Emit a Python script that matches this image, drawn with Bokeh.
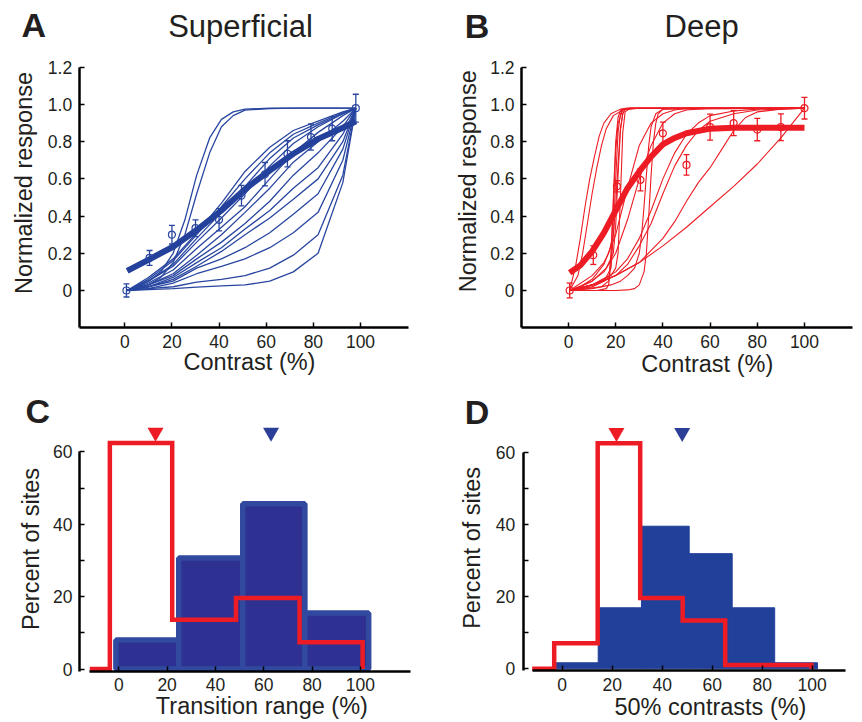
import math
from bokeh.plotting import figure
from bokeh.layouts import column, row
from bokeh.models import (Range1d, FixedTicker, PrintfTickFormatter,
                          Whisker, TeeHead, ColumnDataSource)
from bokeh.core.properties import value
from bokeh.embed import file_html
from bokeh.resources import INLINE

FONT = "Liberation Sans"
TXT = "#231F20"
BLUE = "#2846A0"
BLUE_THICK = "#23409A"
RED = "#ED1C24"

# ---------------- Panel A (superficial) ----------------
A_grid = [1, 10, 20.5, 30.5, 41, 51, 61.5, 71.5, 82, 92.5, 98]
A_curves = [
    [0, .07, .17, .31, .47, .64, .77, .86, .91, .96, .98],
    [0, .06, .16, .30, .45, .60, .74, .84, .90, .955, .98],
    [0, .05, .14, .28, .42, .56, .71, .82, .89, .95, .98],
    [0, .05, .13, .26, .39, .52, .67, .79, .88, .95, .98],
    [0, .04, .11, .226, .34, .45, .60, .74, .85, .94, .98],
    [0, .03, .09, .19, .30, .42, .55, .69, .80, .91, .98],
    [0, .03, .08, .17, .26, .36, .48, .62, .74, .88, .98],
    [0, .02, .07, .15, .23, .33, .43, .55, .66, .84, .98],
    [0, .02, .06, .13, .21, .30, .39, .49, .60, .80, .98],
    [0, .02, .05, .12, .17, .23, .31, .41, .52, .76, .98],
    [0, .01, .04, .09, .13, .17, .23, .31, .42, .70, .98],
    [0, .01, .02, .045, .06, .08, .12, .19, .30, .62, .98],
    [0, .005, .01, .018, .025, .03, .05, .10, .20, .58, .98],
]
A_steep_x = [1, 5, 10, 15.3, 20.5, 25.5, 30.5, 36, 41, 46, 51, 61.5, 71.5, 82, 92.5, 98]
A_steep = [
    [0, .02, .05, .10, .20, .38, .62, .82, .92, .96, .975, .98, .98, .98, .98, .98],
    [0, .015, .03, .07, .15, .30, .52, .74, .88, .94, .97, .978, .98, .98, .98, .98],
]
A_mean = [.105, .165, .235, .325, .43, .545, .645, .735, .815, .875, .91]
A_pts_x = [0.7, 10.5, 20, 30, 40, 49.5, 59.5, 69, 79, 88, 98]
A_pts_y = [0, .175, .30, .335, .38, .51, .625, .735, .825, .87, .98]
A_pts_err = [.035, .04, .05, .045, .06, .055, .063, .07, .07, .065, .075]

# ---------------- Panel B (deep) ----------------
B_curves = [
    ([0.5, 3, 5, 7, 9, 11, 13, 15, 18, 22, 30, 100],
     [0, .13, .28, .45, .6, .72, .83, .9, .95, .975, .98, .98]),
    ([0.5, 4, 6, 8, 10, 12, 14, 16, 19, 23, 30, 100],
     [0, .08, .2, .36, .52, .66, .78, .87, .94, .97, .98, .98]),
    ([0.5, 10, 15, 18, 19, 20, 21, 22, 23, 25, 100],
     [0, .02, .05, .12, .3, .6, .85, .95, .975, .98, .98]),
    ([0.5, 10, 16, 19, 20, 21, 22, 23, 24, 26, 100],
     [0, .05, .12, .2, .35, .62, .86, .95, .975, .98, .98]),
    ([0.5, 8, 14, 17, 18, 19, 20, 21, 22, 24, 100],
     [0, .01, .02, .05, .2, .5, .8, .93, .97, .98, .98]),
    ([0.5, 10, 15, 17, 19, 20, 21, 22, 23, 24, 26, 100],
     [0, .08, .15, .2, .3, .45, .68, .87, .95, .975, .98, .98]),
    ([0.5, 12, 16, 17, 18, 19, 20, 21, 23, 25, 100],
     [0, 0, .01, .03, .15, .45, .75, .9, .97, .98, .98]),
    ([0.5, 10, 18, 20, 21, 22, 23, 24, 26, 100],
     [0, .03, .08, .12, .2, .5, .85, .96, .98, .98]),
    ([0.5, 5, 10, 15, 20, 25, 30, 35, 40, 45, 50, 60, 100],
     [0, .02, .06, .14, .3, .55, .78, .9, .95, .97, .98, .98, .98]),
    ([0.5, 5, 10, 15, 20, 25, 30, 35, 40, 45, 50, 60, 100],
     [0, .02, .05, .1, .2, .38, .6, .78, .9, .95, .97, .98, .98]),
    ([0.5, 10, 20, 25, 28, 30, 32, 33, 34, 35, 36, 37, 38, 40, 45, 100],
     [0, 0, 0, .003, .01, .03, .1, .2, .4, .62, .8, .9, .95, .975, .98, .98]),
    ([0.5, 10, 18, 22, 25, 28, 30, 31, 32, 33, 34, 35, 37, 40, 100],
     [0, .01, .03, .05, .08, .12, .2, .3, .45, .62, .78, .88, .95, .975, .98]),
    ([0.5, 10, 20, 30, 40, 50, 60, 70, 80, 90, 100],
     [0, .03, .08, .15, .24, .34, .45, .56, .68, .82, .98]),
    ([0.5, 10, 20, 30, 40, 45, 50, 55, 60, 65, 70, 75, 80, 90, 100],
     [0, .03, .08, .15, .28, .37, .48, .58, .66, .76, .86, .93, .96, .975, .98]),
    ([0.5, 10, 20, 25, 30, 35, 40, 45, 50, 55, 60, 70, 80, 100],
     [0, .03, .1, .17, .28, .43, .6, .74, .84, .9, .94, .965, .975, .98]),
    ([0.5, 10, 20, 25, 30, 35, 40, 45, 50, 55, 60, 70, 80, 100],
     [0, .02, .08, .14, .24, .36, .52, .67, .78, .86, .91, .95, .97, .98]),
]
B_mean_x = [0.5, 5, 10, 15, 20, 25, 30, 35, 40, 45, 50, 60, 70, 80, 90, 100]
B_mean_y = [.095, .135, .21, .31, .43, .55, .64, .72, .785, .82, .845, .87, .875, .875, .875, .875]
B_pts_x = [0.5, 10.5, 20.5, 30.5, 40, 50, 60, 70, 80, 90, 100]
B_pts_y = [0, .19, .56, .595, .845, .675, .878, .90, .865, .878, .98]
B_pts_err = [.04, .05, .03, .06, .06, .055, .07, .067, .06, .072, .058]

# ---------------- Panel C (transition range) ----------------
C_deep_edges = [-3.7, 22.1, 48.5, 74.8, 100.9]
C_deep_pct = [62.5, 13.6, 19.6, 7.4]
C_sup_edges = [-1.2, 24.8, 51.3, 77, 103.4]
C_sup_pct = [8.0, 30.7, 45.7, 15.5]
C_means = {"deep": 15.2, "sup": 63}

# ---------------- Panel D (50% contrasts) ----------------
D_deep_edges = [-3.2, 14.2, 31.2, 48.2, 65.2, 82.4, 99.7]
D_deep_pct = [7.1, 62.5, 19.6, 13.4, 1.05, 1.05]
D_sup_edges = [-2.3, 14.4, 31.7, 50.8, 68, 85, 102.1]
D_sup_pct = [1.66, 16.9, 39.5, 31.9, 16.9, 1.66]
D_means = {"deep": 21.7, "sup": 48}

X_TICKS = [0, 20, 40, 60, 80, 100]
R_TICKS = [0, 0.2, 0.4, 0.6, 0.8, 1.0, 1.2]
P_TICKS = [0, 10, 20, 30, 40, 50, 60]
MARK_Y = 65.4
HIST_START = -12
SHIFT = 0.35  # baseline correction, in em


def make_fig(w, h, xr, yr):
    p = figure(width=w, height=h, x_range=Range1d(*xr), y_range=Range1d(*yr),
               output_backend="svg", toolbar_location=None,
               min_border=0, min_border_left=0, min_border_right=0,
               min_border_top=0, min_border_bottom=0)
    p.outline_line_color = None
    p.xgrid.visible = False
    p.ygrid.visible = False
    p.background_fill_color = "white"
    p.border_fill_color = "white"
    return p


def style(p, xloc, yloc, xbounds, ybounds, xticks, yticks, ytick_standoff,
          yfmt=None, yover=None):
    for ax in (p.xaxis[0], p.yaxis[0]):
        ax.axis_line_width = 2.5
        ax.axis_line_color = "black"
        ax.major_tick_in = 5
        ax.major_tick_out = 0
        ax.major_tick_line_width = 1.5
        ax.major_tick_line_color = "black"
        ax.minor_tick_line_color = None
        ax.major_label_text_font = FONT
        ax.major_label_text_font_size = "17.5px"
        ax.major_label_text_color = TXT
    xa, ya = p.xaxis[0], p.yaxis[0]
    xa.fixed_location = xloc
    ya.fixed_location = yloc
    xa.bounds = xbounds
    ya.bounds = ybounds
    xa.ticker = FixedTicker(ticks=xticks)
    ya.ticker = FixedTicker(ticks=yticks)
    xa.major_label_standoff = 7
    ya.major_label_standoff = ytick_standoff
    if yfmt is not None:
        ya.formatter = yfmt
    if yover is not None:
        ya.major_label_overrides = yover


def add_text(p, text, x, y, size, bold=False, align="left", vertical=False):
    px = float(size.replace("px", ""))
    p.text(x=[x], y=[y], text=[text], text_font=value(FONT),
           text_font_size=value(size), text_color=TXT,
           text_font_style="bold" if bold else "normal",
           text_align=align, text_baseline="alphabetic",
           angle=math.pi / 2 if vertical else 0.0,
           x_offset=-SHIFT * px if vertical else 0,
           y_offset=0 if vertical else -SHIFT * px)


def axis_labels(p, xlabel, xpos, ylabel, ypos):
    add_text(p, xlabel, xpos[0], xpos[1], "23.5px", align="center")
    add_text(p, ylabel, ypos[0], ypos[1], "23.5px", align="center", vertical=True)


def errorbars(p, xs, ys, es, color):
    src = ColumnDataSource(dict(x=xs, lo=[y - e for y, e in zip(ys, es)],
                                hi=[y + e for y, e in zip(ys, es)]))
    p.add_layout(Whisker(source=src, base="x", lower="lo", upper="hi",
                         dimension="height", line_color=color, line_width=1.3,
                         lower_head=TeeHead(size=6, line_color=color, line_width=1.3),
                         upper_head=TeeHead(size=6, line_color=color, line_width=1.3)))
    p.scatter(xs, ys, marker="circle", size=7, line_color=color, fill_color=None,
              line_width=1.2)


def step_path(edges, vals, start):
    xs = [start, edges[0]]
    ys = [0, 0]
    for i, v in enumerate(vals):
        xs += [edges[i], edges[i + 1]]
        ys += [v, v]
    xs.append(edges[-1])
    ys.append(0)
    return xs, ys


rfmt = PrintfTickFormatter(format="%.1f")

# ---- A ----
pa = make_fig(431, 388, (-52.74, 130.12), (-0.527, 1.559))
style(pa, -0.2, -19.35, (-19.35, 120.2), (-0.2, 1.2), X_TICKS, R_TICKS, 7, rfmt, {0: "0"})
pa.multi_line([A_grid] * len(A_curves), A_curves, line_color=BLUE, line_width=1.3)
pa.multi_line([A_steep_x] * len(A_steep), A_steep, line_color=BLUE, line_width=1.3)
pa.line(A_grid, A_mean, line_color=BLUE_THICK, line_width=6)
errorbars(pa, A_pts_x, A_pts_y, A_pts_err, BLUE)
add_text(pa, "Superficial", 49.1, 1.36, "31px", align="center")
add_text(pa, "A", -43.8, 1.362, "34px", bold=True)
axis_labels(pa, "Contrast (%)", (52.9, -0.43), "Normalized response", (-39.3, 0.578))

# ---- B ----
pb = make_fig(431, 388, (-58.05, 124.58), (-0.527, 1.559))
style(pb, -0.2, -19.9, (-19.9, 120.3), (-0.2, 1.2), X_TICKS, R_TICKS, 7, rfmt, {0: "0"})
pb.multi_line([c[0] for c in B_curves], [c[1] for c in B_curves], line_color=RED, line_width=1.1)
pb.line(B_mean_x, B_mean_y, line_color=RED, line_width=6)
errorbars(pb, B_pts_x, B_pts_y, B_pts_err, RED)
add_text(pb, "Deep", 56.4, 1.36, "31px", align="center")
add_text(pb, "B", -44.0, 1.356, "34px", bold=True)
axis_labels(pb, "Contrast (%)", (58.8, -0.438), "Normalized response", (-38.9, 0.587))

# ---- C ----
pc = make_fig(431, 334, (-48.95, 129.4), (-14.79, 77.55))
style(pc, -0.6, -16.3, (HIST_START, 120.7), (-0.6, 60), X_TICKS, P_TICKS, 7,
      None, {10: "", 30: "", 50: ""})
pc.quad(left=C_sup_edges[:-1], right=C_sup_edges[1:], bottom=0, top=C_sup_pct,
        fill_color="#2E3192", line_color="#314AA0", line_width=5.5)
cx, cy = step_path(C_deep_edges, C_deep_pct, HIST_START)
pc.line(cx, cy, line_color=RED, line_width=4.5, line_join="miter")
pc.scatter([C_means["deep"]], [MARK_Y], marker="inverted_triangle", size=16,
           fill_color=RED, line_color=None)
pc.scatter([C_means["sup"]], [MARK_Y], marker="inverted_triangle", size=16,
           fill_color="#2B3F99", line_color=None)
add_text(pc, "C", -38.6, 68.0, "34px", bold=True)
axis_labels(pc, "Transition range (%)", (59.2, -12.39), "Percent of sites", (-33.0, 33.2))

# ---- D ----
pd_ = make_fig(431, 334, (-52.28, 120.12), (-14.88, 77.65))
style(pd_, -0.6, -15.6, (HIST_START, 113.3), (-0.6, 60), X_TICKS, P_TICKS, 8,
      None, {10: "", 30: "", 50: ""})
pd_.quad(left=D_sup_edges[:-1], right=D_sup_edges[1:], bottom=0, top=D_sup_pct,
         fill_color="#21409A", line_color="#21409A", line_width=1)
dx, dy = step_path(D_deep_edges, D_deep_pct, HIST_START)
pd_.line(dx, dy, line_color=RED, line_width=4.5, line_join="miter")
pd_.scatter([D_means["deep"]], [MARK_Y], marker="inverted_triangle", size=16,
            fill_color=RED, line_color=None)
pd_.scatter([D_means["sup"]], [MARK_Y], marker="inverted_triangle", size=16,
            fill_color="#2B3F99", line_color=None)
add_text(pd_, "D", -39.0, 67.9, "34px", bold=True)
axis_labels(pd_, "50% contrasts (%)", (59.3, -12.94), "Percent of sites", (-32.9, 33.5))

layout = column(row(pa, pb), row(pc, pd_))
open("out.html", "w").write(file_html(layout, INLINE))
